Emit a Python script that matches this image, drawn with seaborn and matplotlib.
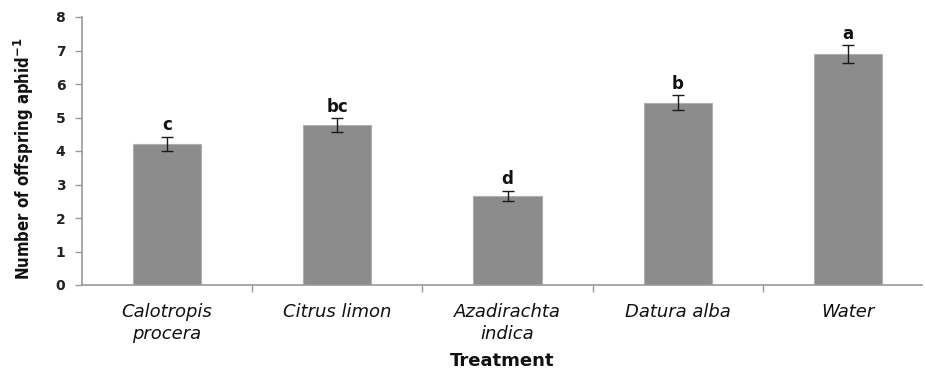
import matplotlib
matplotlib.use("Agg")
import matplotlib.pyplot as plt
import seaborn as sns
import pandas as pd
import numpy as np

treatments = ["Calotropis\nprocera", "Citrus limon", "Azadirachta\nindica", "Datura alba", "Water"]
means = [4.21, 4.78, 2.67, 5.44, 6.89]
errors = [0.22, 0.20, 0.15, 0.23, 0.26]
letters = ["c", "bc", "d", "b", "a"]
yticks = [0, 1, 2, 3, 4, 5, 6, 7, 8]

sns.set_theme(style="white")
plt.rcParams['font.family'] = ['DejaVu Sans']

df = pd.DataFrame({"Treatment": treatments, "Value": means})

fig = plt.figure(figsize=(9.25, 3.76), dpi=100)
ax = fig.add_axes([82/925, 91/376, (922-82)/925, 268/376])

sns.barplot(data=df, x="Treatment", y="Value", color="#8c8c8c", width=0.4,
            saturation=1, edgecolor="#b0b0b0", linewidth=0.8, ax=ax)
pos = np.arange(len(treatments))
ax.errorbar(pos, means, yerr=errors, fmt="none", ecolor="#1a1a1a",
            elinewidth=1.0, capsize=4, capthick=1.0)
for p, m, e, l in zip(pos, means, errors, letters):
    ax.text(p, m + e + 0.07, l, ha="center", va="bottom", fontsize=12,
            fontweight="bold", color="#111111")

ax.set_ylim(0, 8)
ax.set_xlim(-0.5, 4.5 - 11/170)
ax.set_yticks(yticks)
ax.set_yticklabels([str(t) for t in yticks], fontsize=10, fontweight="bold", color="#222222")
ax.set_xticks(pos)
ax.set_xticklabels(treatments, fontsize=13, style="italic", color="#111111", linespacing=1.3)
ax.set_xticks(np.arange(0.5, len(treatments) - 0.5, 1), minor=True)
ax.tick_params(axis="x", which="major", length=0, pad=13)
ax.tick_params(axis="x", which="minor", length=5, width=1, color="#999999", direction="out", bottom=True)
ax.tick_params(axis="y", which="major", length=5, width=1, color="#999999", direction="out", left=True, pad=7)

for s in ["top", "right"]:
    ax.spines[s].set_visible(False)
for s in ["left", "bottom"]:
    ax.spines[s].set_color("#999999")
    ax.spines[s].set_linewidth(1.2)

ax.set_xlabel("Treatment", fontsize=13, fontweight="bold", labelpad=6, color="#111111")
ax.set_ylabel(r"Number of offspring aphid$^{\mathbf{-1}}$", fontsize=12, fontweight="bold",
              fontstretch="condensed", labelpad=12, color="#111111")
ax.yaxis.set_label_coords(-0.055, 0.47)

fig.savefig("out.png", dpi=100)
